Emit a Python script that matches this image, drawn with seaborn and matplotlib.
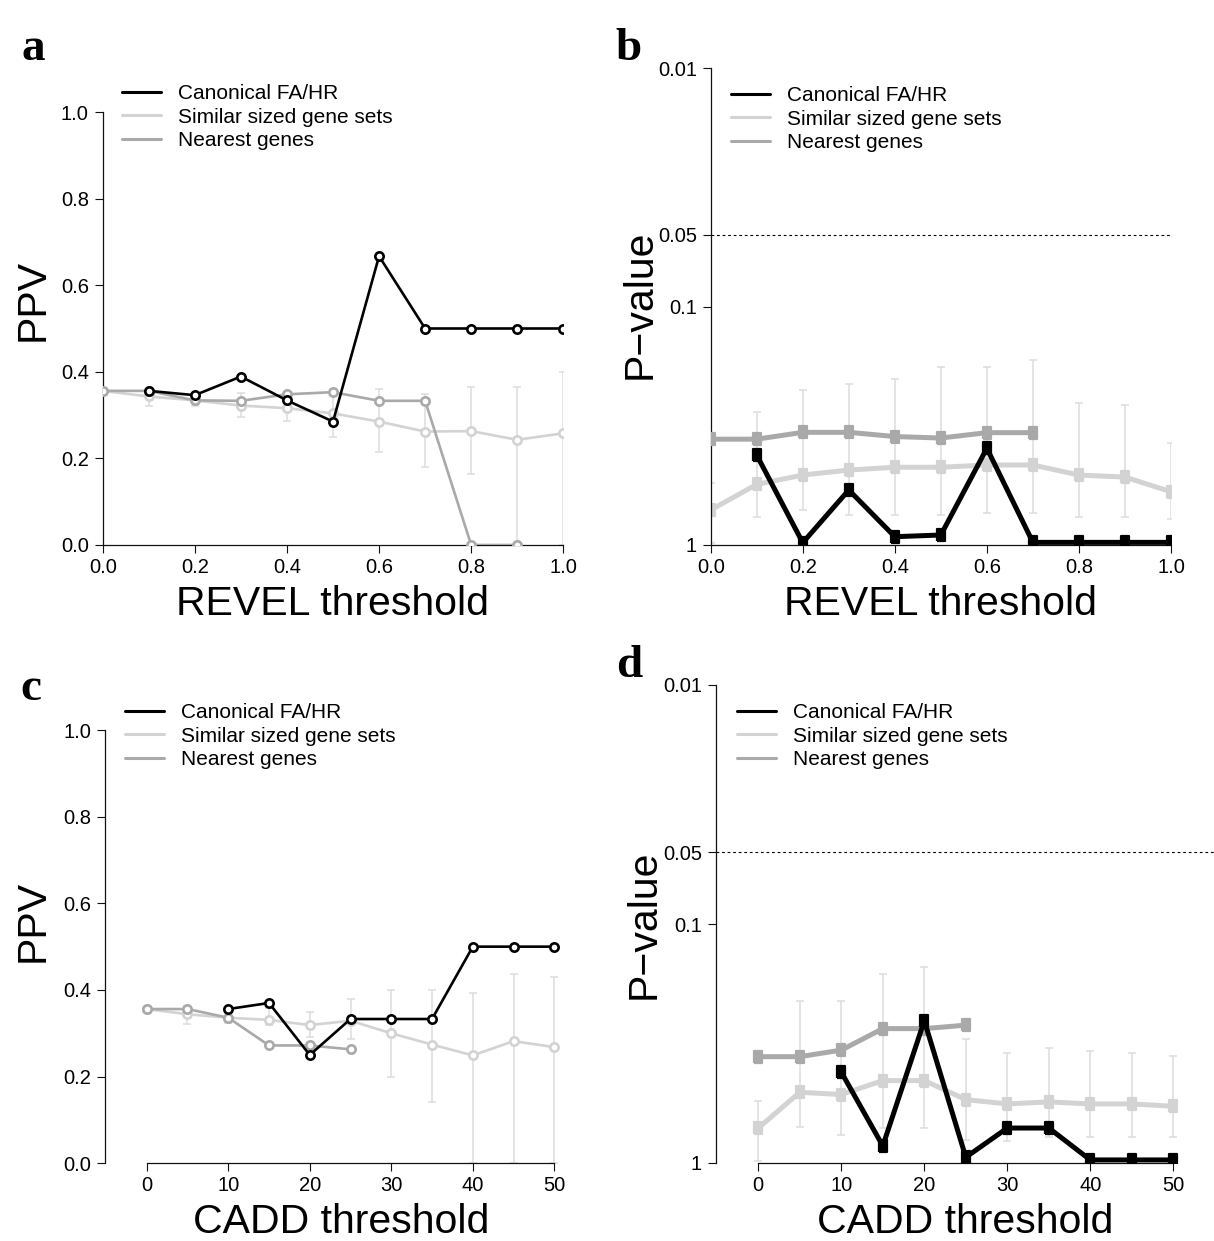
import numpy as np
import pandas as pd
import matplotlib
matplotlib.use("Agg")
import matplotlib.pyplot as plt
import seaborn as sns
from matplotlib.lines import Line2D
from matplotlib.markers import MarkerStyle
from matplotlib.ticker import NullLocator

nan = np.nan

# ---- REVEL thresholds (panels a, b) ----
revel = [0.0, 0.1, 0.2, 0.3, 0.4, 0.5, 0.6, 0.7, 0.8, 0.9, 1.0]
ppv_revel_canonical = [nan, 0.356, 0.346, 0.389, 0.334, 0.285, 0.667, 0.5, 0.5, 0.5, 0.5]
ppv_revel_similar = [0.356, 0.343, 0.334, 0.322, 0.316, 0.304, 0.285, 0.262, 0.263, 0.243, 0.258]
ppv_revel_similar_lo = [0.356, 0.322, 0.322, 0.296, 0.286, 0.249, 0.214, 0.181, 0.165, 0.0, 0.0]
ppv_revel_similar_hi = [0.356, 0.352, 0.340, 0.350, 0.348, 0.353, 0.360, 0.348, 0.364, 0.364, 0.400]
ppv_revel_nearest = [0.356, 0.356, 0.334, 0.333, 0.348, 0.353, 0.333, 0.333, 0.0, 0.0, nan]

p_revel_canonical = [nan, 0.420, 0.978, 0.588, 0.923, 0.908, 0.393, 0.975, 0.975, 0.975, 0.975]
p_revel_similar = [0.713, 0.557, 0.509, 0.485, 0.472, 0.472, 0.462, 0.462, 0.509, 0.519, 0.598]
p_revel_similar_lo = [0.551, 0.278, 0.225, 0.211, 0.201, 0.179, 0.179, 0.167, 0.253, 0.259, 0.375]
p_revel_similar_hi = [0.980, 0.761, 0.713, 0.749, 0.749, 0.749, 0.732, 0.732, 0.765, 0.765, 0.778]
p_revel_nearest = [0.360, 0.360, 0.337, 0.337, 0.351, 0.356, 0.338, 0.338, nan, nan, nan]

# ---- CADD thresholds (panels c, d) ----
cadd = [0, 5, 10, 15, 20, 25, 30, 35, 40, 45, 50]
ppv_cadd_canonical = [nan, nan, 0.356, 0.370, 0.250, 0.333, 0.333, 0.333, 0.5, 0.5, 0.5]
ppv_cadd_similar = [0.356, 0.344, 0.336, 0.331, 0.319, 0.329, 0.300, 0.274, 0.249, 0.282, 0.268]
ppv_cadd_similar_lo = [0.356, 0.322, 0.323, 0.319, 0.292, 0.286, 0.200, 0.142, 0.0, 0.0, 0.0]
ppv_cadd_similar_hi = [0.356, 0.364, 0.347, 0.358, 0.350, 0.380, 0.400, 0.400, 0.392, 0.438, 0.429]
ppv_cadd_nearest = [0.356, 0.356, 0.336, 0.272, 0.272, 0.263, nan, nan, nan, nan, nan]

p_cadd_canonical = [nan, nan, 0.417, 0.848, 0.254, 0.946, 0.714, 0.714, 0.971, 0.971, 0.971]
p_cadd_similar = [0.714, 0.506, 0.517, 0.452, 0.452, 0.543, 0.566, 0.555, 0.566, 0.566, 0.579]
p_cadd_similar_lo = [0.552, 0.209, 0.209, 0.162, 0.152, 0.302, 0.348, 0.331, 0.340, 0.348, 0.357]
p_cadd_similar_hi = [0.978, 0.710, 0.763, 0.714, 0.714, 0.800, 0.806, 0.780, 0.780, 0.780, 0.780]
p_cadd_nearest = [0.359, 0.359, 0.337, 0.274, 0.274, 0.265, nan, nan, nan, nan, nan]

series_names = ["Canonical FA/HR", "Similar sized gene sets", "Nearest genes"]
BLACK, LIGHT, MID, ERR = "#000000", "#d3d3d3", "#a9a9a9", "#dcdcdc"

sns.set_theme(style="ticks")
plt.rcParams["font.family"] = ["Liberation Sans", "DejaVu Sans"]
plt.rcParams.update({
    "text.color": "black",
    "axes.labelcolor": "black",
    "axes.linewidth": 0.9,
    "axes.edgecolor": "#111111",
    "xtick.major.size": 5.5, "ytick.major.size": 5.5,
    "xtick.major.width": 0.8, "ytick.major.width": 0.8,
    "xtick.major.pad": 4.0, "ytick.major.pad": 4.5,
    "xtick.labelsize": 14.5, "ytick.labelsize": 14.5,
    "xtick.color": "#111111", "ytick.color": "#111111",
    "xtick.labelcolor": "black", "ytick.labelcolor": "black",
})

W, H = 1214, 1241
fig = plt.figure(figsize=(W / 100, H / 100), dpi=100)


def rect(left, top, right, bottom):
    return [left / W, 1 - bottom / H, (right - left) / W, (bottom - top) / H]


ax_a = fig.add_axes(rect(102.7, 112, 563.3, 545))
ax_b = fig.add_axes(rect(710.7, 68, 1171, 545))
ax_c = fig.add_axes(rect(105, 730, 577, 1163.3))
ax_d = fig.add_axes(rect(716, 685, 1214, 1163))

circle = MarkerStyle("o")
bar_marker = MarkerStyle([(-0.33, -0.5), (0.33, -0.5), (0.33, 0.5), (-0.33, 0.5), (-0.33, -0.5)],
                         joinstyle="round")


def draw_series(ax, x, y, color, style, z):
    df = pd.DataFrame({"threshold": x, "value": y}).dropna()
    if style == "ppv":
        kw = dict(lw=1.9, marker=circle, ms=6.0, mew=1.9, mfc="white", mec=color)
    else:
        kw = dict(lw=3.6, marker=bar_marker, ms=8.5, mew=1.6, mfc=color, mec=color)
    sns.lineplot(data=df, x="threshold", y="value", ax=ax, color=color,
                 estimator=None, sort=False, legend=False, zorder=z, **kw)


def draw_errors(ax, x, y, lo, hi):
    y = np.asarray(y, float)
    err = [y - np.asarray(lo, float), np.asarray(hi, float) - y]
    ax.errorbar(x, y, yerr=err, fmt="none", ecolor=ERR, elinewidth=1.1,
                capsize=2.8, capthick=1.1, zorder=1)


def panel(ax, x, canon, sim, lo, hi, near, style):
    if style == "p":
        ax.set_yscale("log")
    draw_errors(ax, x, sim, lo, hi)
    draw_series(ax, x, sim, LIGHT, style, 2)
    draw_series(ax, x, near, MID, style, 3)
    draw_series(ax, x, canon, BLACK, style, 4)
    sns.despine(ax=ax)


panel(ax_a, revel, ppv_revel_canonical, ppv_revel_similar, ppv_revel_similar_lo,
      ppv_revel_similar_hi, ppv_revel_nearest, "ppv")
panel(ax_b, revel, p_revel_canonical, p_revel_similar, p_revel_similar_lo,
      p_revel_similar_hi, p_revel_nearest, "p")
panel(ax_c, cadd, ppv_cadd_canonical, ppv_cadd_similar, ppv_cadd_similar_lo,
      ppv_cadd_similar_hi, ppv_cadd_nearest, "ppv")
panel(ax_d, cadd, p_cadd_canonical, p_cadd_similar, p_cadd_similar_lo,
      p_cadd_similar_hi, p_cadd_nearest, "p")

revel_ticks = [0.0, 0.2, 0.4, 0.6, 0.8, 1.0]
cadd_ticks = [0, 10, 20, 30, 40, 50]
ppv_ticks = [0.0, 0.2, 0.4, 0.6, 0.8, 1.0]
p_ticks = [0.01, 0.05, 0.1, 1]
p_tick_labels = ["0.01", "0.05", "0.1", "1"]

for ax in (ax_a, ax_b):
    ax.set_xlim(0, 1)
    ax.set_xticks(revel_ticks)
    ax.set_xticklabels([f"{t:.1f}" for t in revel_ticks])
ax_c.set_xlim(-5.115, 52.78)
ax_d.set_xlim(-5.096, 54.9)
for ax in (ax_c, ax_d):
    ax.set_xticks(cadd_ticks)
    ax.set_xticklabels([str(t) for t in cadd_ticks])
    ax.spines["bottom"].set_bounds(0, 50)

for ax in (ax_a, ax_c):
    ax.set_ylim(0, 1)
    ax.set_yticks(ppv_ticks)
    ax.set_yticklabels([f"{t:.1f}" for t in ppv_ticks])
for ax in (ax_b, ax_d):
    ax.set_ylim(1, 0.01)
    ax.set_yticks(p_ticks)
    ax.set_yticklabels(p_tick_labels)
    ax.yaxis.set_minor_locator(NullLocator())
    ax.axhline(0.05, color="black", lw=0.8, ls=(0, (2.5, 2.5)), zorder=0.5)

# axis titles
label_kw = dict(fontsize=29.5)
ax_a.set_xlabel("REVEL threshold", va="baseline", **label_kw)
ax_b.set_xlabel("REVEL threshold", va="baseline", **label_kw)
ax_c.set_xlabel("CADD threshold", va="baseline", **label_kw)
ax_d.set_xlabel("CADD threshold", va="baseline", **label_kw)
ax_a.set_ylabel("PPV", va="baseline", **label_kw)
ax_c.set_ylabel("PPV", va="baseline", **label_kw)
ax_b.set_ylabel("P\u2212value", va="baseline", **label_kw)
ax_d.set_ylabel("P\u2212value", va="baseline", **label_kw)

ax_a.xaxis.set_label_coords(0.5, -(615 - 545) / 433)
ax_b.xaxis.set_label_coords(0.5, -(615 - 545) / 477)
ax_c.xaxis.set_label_coords(0.5, -(1233 - 1163.3) / 433.3)
ax_d.xaxis.set_label_coords(0.5, -(1233 - 1163) / 478)
ax_a.yaxis.set_label_coords(-(102.7 - 44) / 460.6, 0.566)
ax_c.yaxis.set_label_coords(-(105 - 44) / 472, 0.559)
ax_b.yaxis.set_label_coords(-(710.7 - 651) / 460.3, 0.505)
ax_d.yaxis.set_label_coords(-(716 - 655) / 498, 0.5)

# legends
handles = [Line2D([], [], color=c, lw=2.2) for c in (BLACK, LIGHT, MID)]
leg_kw = dict(loc="upper left", frameon=False, fontsize=15, handlelength=1.85,
              handletextpad=0.85, labelspacing=0.22, borderpad=0, borderaxespad=0,
              bbox_transform=fig.transFigure)
for ax, (lx, ly) in ((ax_a, (122, 84)), (ax_b, (731, 86)), (ax_c, (125, 703)), (ax_d, (737, 703))):
    ax.legend(handles, series_names, bbox_to_anchor=(lx / W, 1 - ly / H), **leg_kw)

# panel letters
for letter, (lx, ly) in (("a", (33, 60)), ("b", (629, 60)), ("c", (31, 700)), ("d", (629, 677))):
    fig.text(lx / W, 1 - ly / H, letter, fontsize=34, fontweight="bold",
             family=["Liberation Serif", "DejaVu Serif"], ha="center", va="baseline")

fig.savefig("out.png", dpi=100)
